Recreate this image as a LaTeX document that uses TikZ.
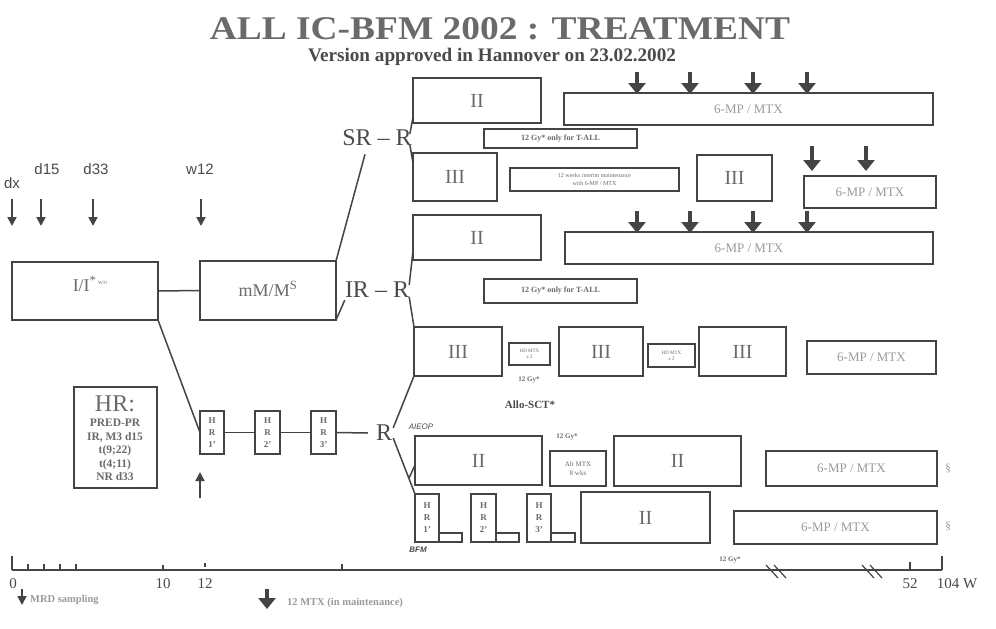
\documentclass[tikz,border=0pt]{standalone}
\usepackage{graphicx}
\usepackage{fontspec}
\setmainfont{Liberation Serif}
\newfontfamily\sansf{Liberation Sans}
\usetikzlibrary{arrows.meta,calc}
\definecolor{ln}{HTML}{444444}
\definecolor{tx}{HTML}{4A4A4A}
\definecolor{bt}{HTML}{6A6A6A}
\definecolor{ft}{HTML}{9A9A9A}
\newcommand\bx[7][]{\node[box,#1,minimum width={#5pt-#3pt},minimum height={#6pt-#4pt}] (#2) at ({(#3+#5)/2},{(#4+#6)/2}) {#7};}
\begin{document}
\begin{tikzpicture}[x=1pt,y=-1pt,
  box/.style={draw=ln,line width=1.5pt,inner sep=0pt,outer sep=0pt,text=ft,align=center},
  big/.style={font=\fontsize{20}{20}\selectfont,text=bt},
  mp/.style={font=\fontsize{13}{13}\selectfont},
  tiny/.style={font=\fontsize{6}{7}\selectfont\bfseries,text=bt},
  hrb/.style={font=\fontsize{9}{12}\selectfont\bfseries,text=bt},
  conn/.style={draw=ln,line width=1.5pt},
  lbl/.style={inner sep=0pt,text=tx},
  mtx/.style={draw=ln,line width=4.5pt,-{Triangle[width=17pt,length=11pt]}},
  samp/.style={draw=ln,line width=1.8pt,-{Triangle[width=9pt,length=9pt]}},
  tick/.style={draw=ln,line width=1.2pt}]
\fill[white] (0,0) rectangle (996,629);
\useasboundingbox (0,0) rectangle (996,629);

% titles
\node[lbl,text=bt] (title) at (500,29) {\resizebox{580pt}{22pt}{\bfseries ALL IC-BFM 2002 : TREATMENT}};
\node[lbl] (subtitle) at (492,57) {\resizebox{368pt}{!}{\bfseries Version approved in Hannover on 23.02.2002}};

% sampling labels and arrows
\node[lbl,font=\sansf\fontsize{15}{15}\selectfont] (ldx) at (12,183) {dx};
\node[lbl,font=\sansf\fontsize{15}{15}\selectfont] (ld15) at (47,169) {d15};
\node[lbl,font=\sansf\fontsize{15}{15}\selectfont] (ld33) at (96,169) {d33};
\node[lbl,font=\sansf\fontsize{15}{15}\selectfont] (lw12) at (200,169) {w12};
\draw[samp] (12,199) -- (12,226);
\draw[samp] (41,199) -- (41,226);
\draw[samp] (93,199) -- (93,226);
\draw[samp] (201,199) -- (201,226);

% left part
\bx{I}{12}{262}{158}{320}{}
\node[lbl,text=bt,font=\fontsize{18}{18}\selectfont] (Itext) at (90,284) {I/I\textsuperscript{*\,\tiny W/0}};
\bx{mM}{200}{261}{336}{320}{}
\node[lbl,text=bt,font=\fontsize{18}{18}\selectfont] (mMtext) at (268,289) {mM/M\textsuperscript{S}};
\bx{HRc}{74}{387}{157}{488}{}
\node[lbl,text=bt,font=\fontsize{24}{24}\selectfont] (HRt) at (115,404) {HR:};
\node[lbl,text=bt,font=\fontsize{11.5}{13.5}\selectfont\bfseries,align=center] (HRl) at (115,450) {PRED-PR\\IR, M3 d15\\t(9;22)\\t(4;11)\\NR d33};
\bx[hrb]{HR1}{200}{411}{224}{454}{H\\R\\1'}
\bx[hrb]{HR2}{255}{411}{280}{454}{H\\R\\2'}
\bx[hrb]{HR3}{311}{411}{336}{454}{H\\R\\3'}
\draw[samp] (200,498) -- (200,472);

\node[lbl,font=\fontsize{24}{24}\selectfont] (SR) at (377,138) {SR – R};
\node[lbl,font=\fontsize{24}{24}\selectfont] (IR) at (377,290) {IR – R};
\node[lbl,font=\fontsize{24}{24}\selectfont] (R) at (384,433) {R};

% row 1
\bx[big]{II1}{413}{78}{541}{123}{II}
\bx[mp]{MP1}{564}{93}{933}{125}{6-MP / MTX}
\bx[tiny,font=\fontsize{8}{8}\selectfont\bfseries]{Gy1}{484}{129}{637}{148}{12 Gy* only for T-ALL}
% row 2
\bx[big]{III1}{413}{153}{497}{201}{III}
\bx[tiny,font=\fontsize{6}{7.5}\selectfont]{IM}{510}{168}{679}{191}{12 weeks interim maintenance\\with 6-MP / MTX}
\bx[big]{III1b}{697}{155}{772}{201}{III}
\bx[mp]{MP2}{804}{176}{936}{208}{6-MP / MTX}
% row 3
\bx[big]{II2}{413}{215}{541}{260}{II}
\bx[mp]{MP3}{565}{232}{933}{264}{6-MP / MTX}
\bx[tiny,font=\fontsize{8}{8}\selectfont\bfseries]{Gy2}{484}{279}{637}{303}{12 Gy* only for T-ALL}
% row 4
\bx[big]{III2a}{414}{327}{502}{376}{III}
\bx[tiny,font=\fontsize{5}{6}\selectfont]{S1}{509}{343}{550}{365}{HD MTX\\x 2}
\bx[big]{III2b}{559}{327}{643}{376}{III}
\bx[tiny,font=\fontsize{5}{6}\selectfont]{S2}{648}{344}{695}{367}{HD MTX\\x 2}
\bx[big]{III2c}{699}{327}{786}{376}{III}
\bx[mp]{MP4}{807}{341}{936}{374}{6-MP / MTX}
\node[lbl,tiny,font=\fontsize{7}{7}\selectfont\bfseries] (gyA) at (529,380) {12 Gy*};
\node[lbl,font=\fontsize{11}{11}\selectfont\bfseries] (allo) at (530,405) {Allo-SCT*};
% row 5
\node[lbl,font=\sansf\itshape\fontsize{8}{8}\selectfont] (aieop) at (421,427) {AIEOP};
\bx[big]{II3}{415}{436}{542}{485}{II}
\node[lbl,tiny,font=\fontsize{7}{7}\selectfont\bfseries] (gyB) at (567,437) {12 Gy*};
\bx[tiny,font=\fontsize{7}{8.5}\selectfont]{AM}{550}{451}{606}{486}{Alt MTX\\8 wks}
\bx[big]{II3b}{614}{436}{741}{486}{II}
\bx[mp]{MP5}{766}{451}{937}{486}{6-MP / MTX}
\node[lbl,text=ft,font=\fontsize{11}{11}\selectfont] (sec1) at (948,468) {§};
% row 6
\bx[hrb]{HR1b}{415}{494}{439}{542}{H\\R\\1'}
\bx{t1}{439}{533}{462}{542}{}
\bx[hrb]{HR2b}{471}{494}{496}{542}{H\\R\\2'}
\bx{t2}{496}{533}{519}{542}{}
\bx[hrb]{HR3b}{527}{494}{551}{542}{H\\R\\3'}
\bx{t3}{551}{533}{575}{542}{}
\bx[big]{II4}{581}{492}{710}{543}{II}
\bx[mp]{MP6}{734}{511}{937}{544}{6-MP / MTX}
\node[lbl,font=\sansf\bfseries\itshape\fontsize{8}{8}\selectfont] (bfm) at (418,550) {BFM};
\node[lbl,tiny,font=\fontsize{7}{7}\selectfont\bfseries] (gyC) at (730,560) {12 Gy*};
\node[lbl,text=ft,font=\fontsize{11}{11}\selectfont] (sec2) at (948,526) {§};

% maintenance arrows
\foreach \x in {637,690,753,807} {\draw[mtx] (\x,72) -- (\x,94); \draw[mtx] (\x,211) -- (\x,233);}
\draw[mtx] (812,146) -- (812,171);
\draw[mtx] (866,146) -- (866,171);

% connectors
\draw[conn] (I.east) -- (mM.west);
\draw[conn] (I.south east) -- (HR1.west);
\draw[conn] (HR1.east) -- (HR2.west);
\draw[conn] (HR2.east) -- (HR3.west);
\draw[conn] (HR3.east) -- ([xshift=-8pt]R.west);
\draw[conn] (mM.north east) -- ([xshift=-12pt,yshift=-8pt]SR.south);
\draw[conn] ([xshift=-2pt,yshift=4pt]SR.east) -- ([yshift=6pt]II1.south west);
\draw[conn] ([xshift=-2pt,yshift=-7pt]SR.east) -- ([yshift=-10pt]III1.north west);
\draw[conn] (mM.south east) -- ([yshift=-2pt]IR.south west);
\draw[conn] ([yshift=5pt]IR.east) -- ([yshift=9pt]II2.south west);
\draw[conn] ([yshift=-7pt]IR.east) -- (III2a.north west);
\draw[conn] ([xshift=1pt,yshift=-3pt]R.north east) -- (III2a.south west);
\draw[conn] ([xshift=1pt,yshift=3pt]R.south east) -- (HR1b.north west);
\draw[conn] ($([xshift=1pt,yshift=3pt]R.south east)!0.72!(HR1b.north west)$) -- ([yshift=20pt]II3.south west);

% time axis
\draw[draw=ln,line width=1.6pt] (12,570) -- (942,570);
\draw[tick] (12,556) -- (12,570);
\foreach \x in {28,44,60,76} {\draw[tick] (\x,564) -- (\x,570);}
\draw[tick] (163,565) -- (163,570);
\draw[tick] (205,563) -- (205,567);
\draw[tick] (342,564) -- (342,570);
\draw[tick] (910,562) -- (910,570);
\draw[tick] (942,556) -- (942,570);
\draw[tick] (766,565) -- (778,578);
\draw[tick] (774,565) -- (786,578);
\draw[tick] (862,565) -- (874,578);
\draw[tick] (870,565) -- (882,578);
\node[lbl,font=\fontsize{15}{15}\selectfont] (a0) at (13,584) {0};
\node[lbl,font=\fontsize{15}{15}\selectfont] (a10) at (163,584) {10};
\node[lbl,font=\fontsize{15}{15}\selectfont] (a12) at (205,584) {12};
\node[lbl,font=\fontsize{15}{15}\selectfont] (a52) at (910,584) {52};
\node[lbl,font=\fontsize{15}{15}\selectfont] (a104) at (957,584) {104 W};

% legend
\draw[samp] (22,589) -- (22,605);
\node[lbl,text=ft,font=\fontsize{10.5}{10.5}\selectfont\bfseries,anchor=west] (legs) at (30,600) {MRD sampling};
\draw[mtx] (267,589) -- (267,609);
\node[lbl,text=ft,font=\fontsize{10.5}{10.5}\selectfont\bfseries,anchor=west] (legm) at (287,603) {12 MTX (in maintenance)};
\end{tikzpicture}
\end{document}
